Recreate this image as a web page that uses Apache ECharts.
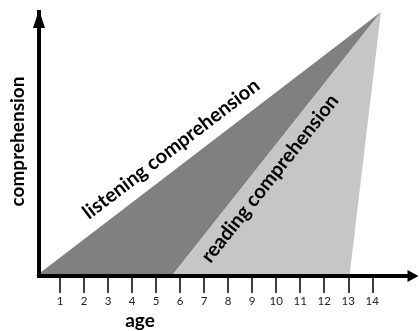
<!DOCTYPE html>
<html>
<head>
<meta charset="utf-8">
<script src="https://cdn.jsdelivr.net/npm/echarts@6/dist/echarts.min.js"></script>
<style>
  html, body { margin: 0; padding: 0; background: #fff; }
  #chart { width: 419px; height: 331px; }
</style>
</head>
<body>
<div id="chart"></div>
<script>
// Age ticks along the horizontal axis
const ageTicks = [1, 2, 3, 4, 5, 6, 7, 8, 9, 10, 11, 12, 13, 14];

// Listening comprehension wedge: vertices (age, comprehension level)
const listeningAges = [0, 14.36, 5.65];
const listeningLevels = [0, 100, 0];

// Reading comprehension wedge: vertices (age, comprehension level)
const readingAges = [5.65, 14.36, 13.05];
const readingLevels = [0, 100, 0];

const wedgeNames = ['listening comprehension', 'reading comprehension'];
const axisNames = ['age', 'comprehension'];

const FONT = 'Lato, "DejaVu Sans", sans-serif';

// Builds a renderItem that draws one filled wedge plus a label running
// parallel to its first edge (vertex 0 -> vertex 1).
function wedgeRenderer(ages, levels, color, label, along, offset) {
  return function (params, api) {
    const pts = ages.map((a, i) => api.coord([a, levels[i]]));
    const p0 = pts[0], p1 = pts[1];
    const dx = p1[0] - p0[0], dy = p1[1] - p0[1];
    const len = Math.sqrt(dx * dx + dy * dy);
    const ux = dx / len, uy = dy / len;
    const nx = uy, ny = -ux;
    const cx = p0[0] + ux * len * along + nx * offset;
    const cy = p0[1] + uy * len * along + ny * offset;
    return {
      type: 'group',
      children: [
        {
          type: 'polygon',
          shape: { points: pts },
          style: { fill: color, stroke: null }
        },
        {
          type: 'text',
          x: cx,
          y: cy,
          rotation: Math.atan2(-dy, dx),
          style: {
            text: label,
            font: 'bold 20px ' + FONT,
            fill: '#000',
            align: 'center',
            verticalAlign: 'middle'
          },
          z2: 5
        }
      ]
    };
  };
}

const chart = echarts.init(document.getElementById('chart'), null, { renderer: 'canvas' });

chart.setOption({
  animation: false,
  backgroundColor: '#fff',
  grid: { left: 39, right: 6, top: 12, bottom: 55, containLabel: false },
  xAxis: {
    type: 'value',
    min: 0.125,
    max: 15.695,
    z: 10,
    splitLine: { show: false },
    axisLine: {
      show: true,
      onZero: false,
      symbol: ['none', 'triangle'],
      symbolSize: [12, 11],
      lineStyle: { color: '#000', width: 4, cap: 'square' }
    },
    axisTick: {
      show: true,
      customValues: ageTicks,
      length: 17,
      lineStyle: { color: '#000', width: 1.5 }
    },
    axisLabel: {
      show: true,
      customValues: ageTicks,
      margin: 19,
      color: '#222',
      fontFamily: FONT,
      fontSize: 11.5
    }
  },
  yAxis: {
    type: 'value',
    min: 0,
    max: 100,
    z: 10,
    splitLine: { show: false },
    axisTick: { show: false },
    axisLabel: { show: false },
    axisLine: {
      show: true,
      onZero: false,
      symbol: ['none', 'triangle'],
      symbolSize: [12, 18],
      symbolOffset: [0, -7],
      lineStyle: { color: '#000', width: 4, cap: 'square' }
    }
  },
  graphic: [
    {
      type: 'text',
      x: 140,
      y: 321,
      style: {
        text: axisNames[0],
        font: 'bold 19px ' + FONT,
        fill: '#000',
        align: 'center',
        verticalAlign: 'middle'
      }
    },
    {
      type: 'text',
      x: 18,
      y: 141.5,
      rotation: Math.PI / 2,
      style: {
        text: axisNames[1],
        font: 'bold 19px ' + FONT,
        fill: '#000',
        align: 'center',
        verticalAlign: 'middle'
      }
    }
  ],
  series: [
    {
      type: 'custom',
      name: wedgeNames[0],
      clip: false,
      data: [0],
      renderItem: wedgeRenderer(listeningAges, listeningLevels, '#808080', wedgeNames[0], 0.425, 18.7)
    },
    {
      type: 'custom',
      name: wedgeNames[1],
      clip: false,
      data: [0],
      renderItem: wedgeRenderer(readingAges, readingLevels, '#c6c6c6', wedgeNames[1], 0.408, -16.4)
    }
  ]
});
</script>
</body>
</html>
